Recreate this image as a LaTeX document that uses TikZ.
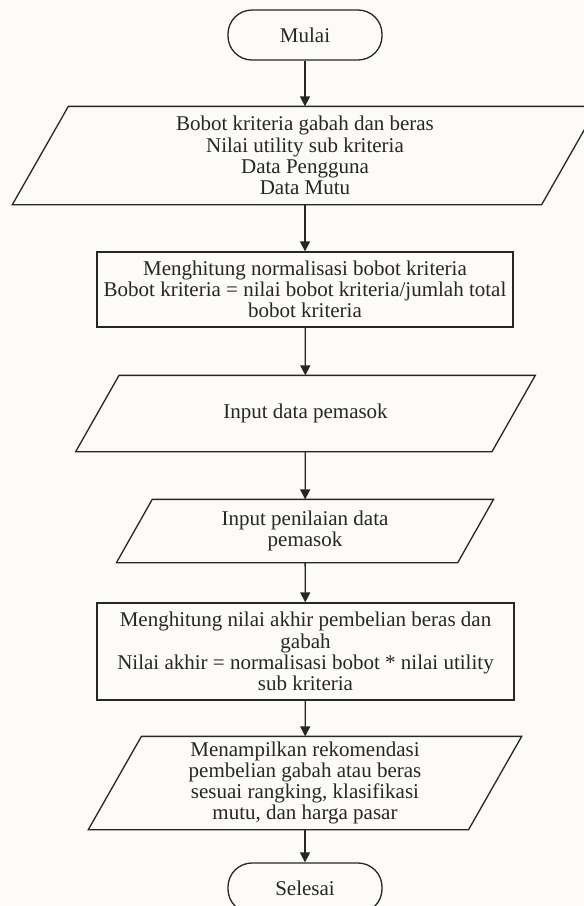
\documentclass[tikz,border=0pt]{standalone}
\usepackage{fontspec}
\setmainfont{Liberation Serif}
\usetikzlibrary{arrows.meta}
\definecolor{paper}{RGB}{252,251,247}
\definecolor{ink}{RGB}{38,38,38}
% outline of an input/output step: a parallelogram with 60 degree sides
% around the rectangular node #1, its top and bottom shifted by #2
\newcommand{\ioframe}[2]{%
  \draw[outline] ([xshift=-#2]#1.south west) -- ([xshift=#2]#1.north west)
    -- ([xshift=#2]#1.north east) -- ([xshift=-#2]#1.south east) -- cycle;}
\begin{document}
\begin{tikzpicture}[x=1pt,y=-1pt,
  every node/.style={font=\fontsize{21}{21.3}\selectfont, text=ink, align=center, inner sep=0pt},
  outline/.style={draw=ink, line width=1.3pt, line join=miter},
  terminal/.style={outline, rectangle, rounded corners=24pt, minimum width=154pt, minimum height=50pt},
  process/.style={outline, rectangle},
  io/.style={rectangle, line width=1.3pt},
  flow/.style={draw=ink, line width=1.3pt, -{Triangle[width=10pt,length=10pt]}}
]
% page and background
\useasboundingbox (0,0) rectangle (584,906);
\fill[paper] (0,0) rectangle (584,906);

% flowchart steps
\node[terminal] (start) at (305,35) {Mulai};
\node[io, minimum width=528pt, minimum height=97pt] (data) at (305,155.5)
  {Bobot kriteria gabah dan beras\\ Nilai utility sub kriteria\\ Data Pengguna\\ Data Mutu};
\node[process, minimum width=416pt, minimum height=75pt] (norm) at (305,289.5)
  {Menghitung normalisasi bobot kriteria\\ Bobot kriteria = nilai bobot kriteria/jumlah total\\ bobot kriteria};
\node[io, minimum width=415pt, minimum height=75pt] (supplier) at (305.5,413.5)
  {Input data pemasok};
\node[io, minimum width=340pt, minimum height=62pt] (score) at (305,531)
  {Input penilaian data\\ pemasok};
\node[process, minimum width=417pt, minimum height=97pt] (final) at (305.5,651.5)
  {Menghitung nilai akhir pembelian beras dan\\ gabah\\ Nilai akhir = normalisasi bobot * nilai utility\\ sub kriteria};
\node[io, minimum width=379pt, minimum height=92pt] (result) at (305,783)
  {Menampilkan rekomendasi\\ pembelian gabah atau beras\\ sesuai rangking, klasifikasi\\ mutu, dan harga pasar};
\node[terminal] (stop) at (305,888) {Selesai};

% parallelogram outlines of the input/output steps
\ioframe{data}{28pt}
\ioframe{supplier}{21.65pt}
\ioframe{score}{17.9pt}
\ioframe{result}{26.55pt}

% connectors
\draw[flow] (start) -- (data);
\draw[flow] (data) -- (norm);
\draw[flow] (norm) -- (supplier);
\draw[flow] (supplier) -- (score);
\draw[flow] (score) -- (final);
\draw[flow] (final) -- (result);
\draw[flow] (result) -- (stop);
\end{tikzpicture}
\end{document}
